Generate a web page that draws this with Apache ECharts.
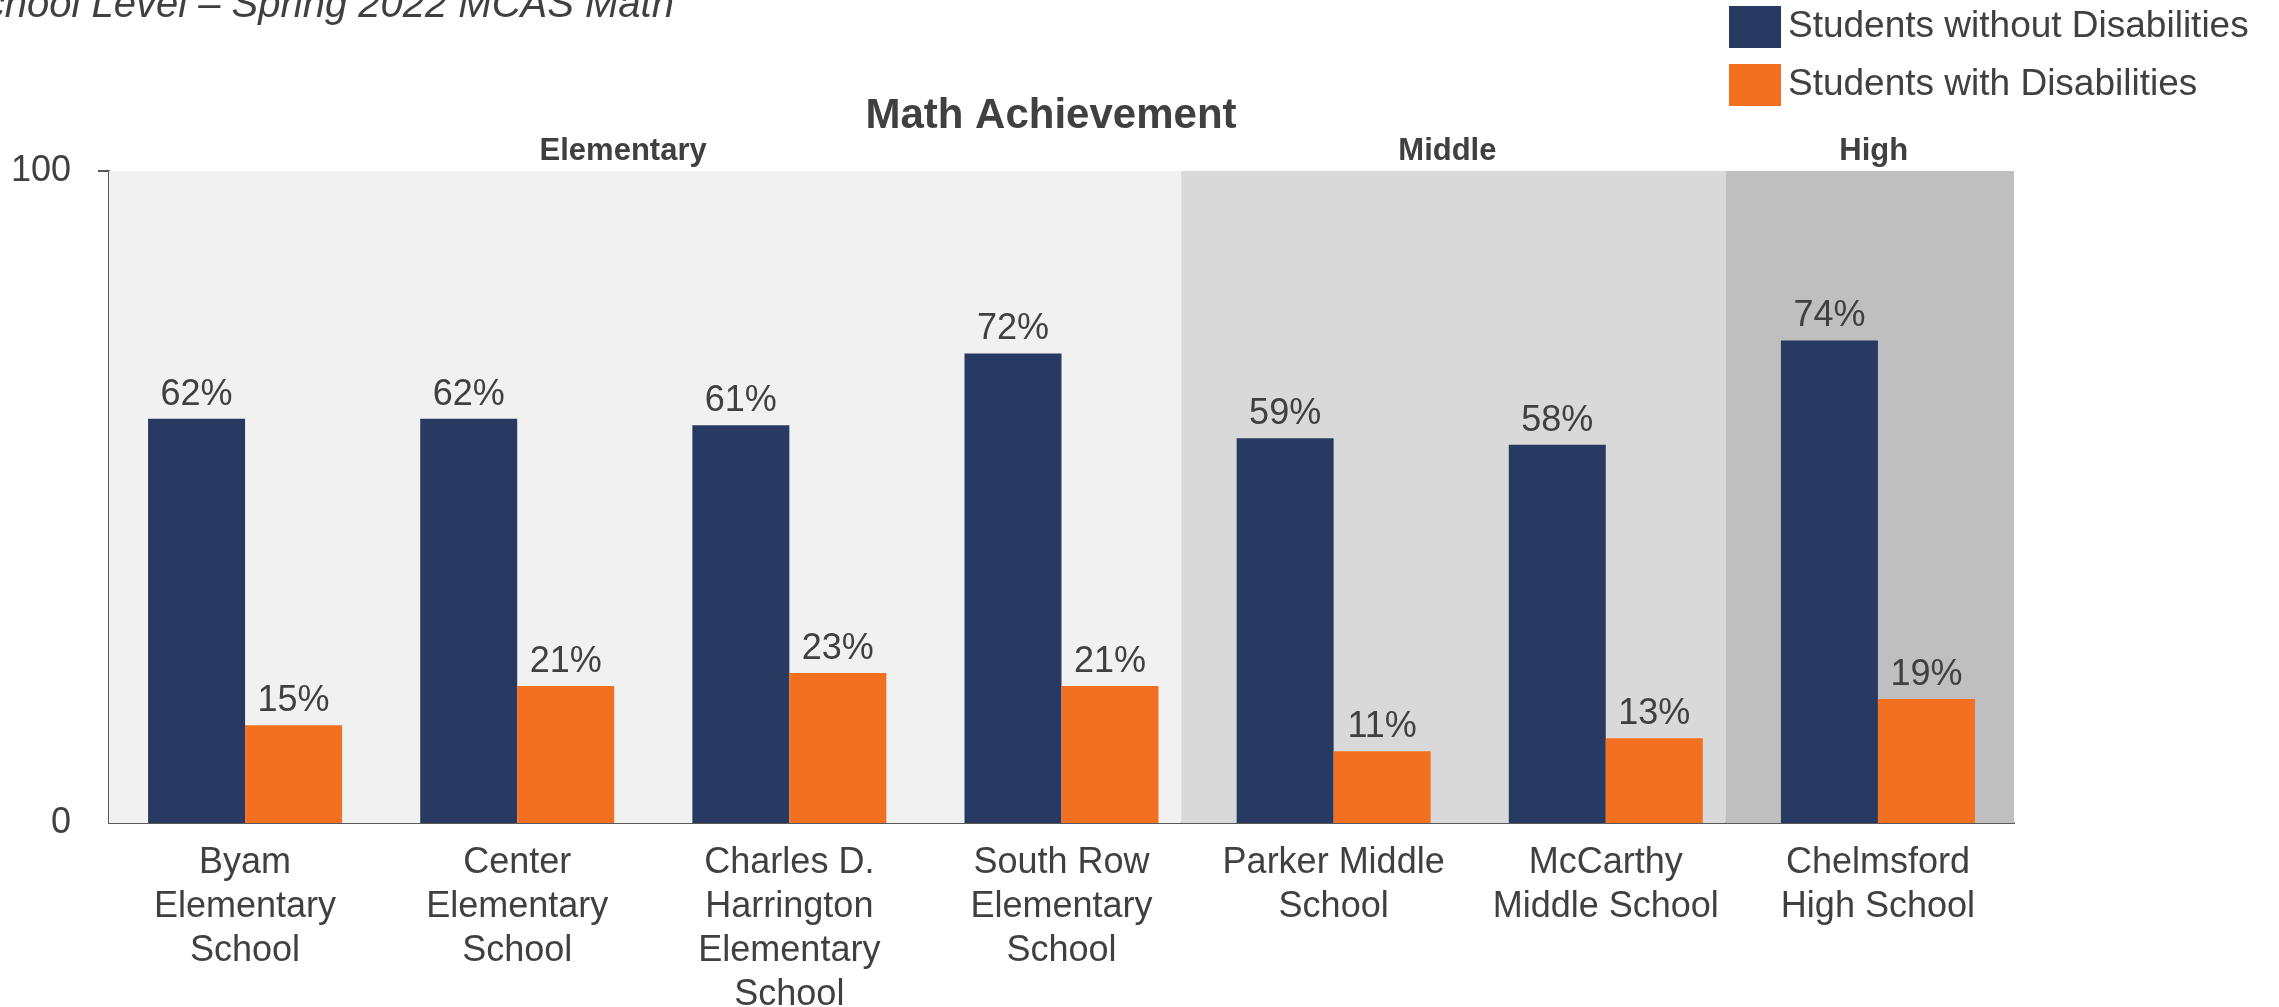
<!DOCTYPE html>
<html>
<head>
    <meta charset="utf-8">
    <title>Math Achievement</title>
    <script src="https://cdn.jsdelivr.net/npm/echarts@6/dist/echarts.min.js"></script>
    <style>
        html, body { margin: 0; padding: 0; background: #fff; }
        #main { width: 2279px; height: 1007px; }
    </style>
</head>
<body>
<div id="main"></div>
<script type="text/javascript">
    // data
    var schools = [
        'Byam\nElementary\nSchool',
        'Center\nElementary\nSchool',
        'Charles D.\nHarrington\nElementary\nSchool',
        'South Row\nElementary\nSchool',
        'Parker Middle\nSchool',
        'McCarthy\nMiddle School',
        'Chelmsford\nHigh School'
    ];
    var withoutDis = [62, 62, 61, 72, 59, 58, 74];
    var withDis = [15, 21, 23, 21, 11, 13, 19];
    var yTicks = [0, 100];

    // school level bands (in category units, 0..7)
    var levelNames = ['Elementary', 'Middle', 'High'];
    var levelFrom = [0, 3.94, 5.94];
    var levelTo = [3.94, 5.94, 7];
    var levelColors = ['#f1f1f1', '#d9d9d9', '#bfbfbf'];
    var levelLabelShift = [-22, -6, 4];

    var textColor = '#404040';
    var font = 'Liberation Sans, Arial, sans-serif';

    var myChart = echarts.init(document.getElementById('main'));

    var bands = [];
    for (var i = 0; i < levelNames.length; i++) {
        bands.push([
            {
                name: levelNames[i],
                xAxis: levelFrom[i],
                itemStyle: { color: levelColors[i] },
                label: { offset: [levelLabelShift[i], 0] }
            },
            { xAxis: levelTo[i] }
        ]);
    }

    var option = {
        animation: false,
        textStyle: { fontFamily: font },
        graphic: [
            {
                type: 'text',
                left: -42,
                top: -14,
                style: {
                    text: 'School Level \u2013 Spring 2022 MCAS Math',
                    font: 'italic 40px ' + font,
                    fill: textColor
                }
            },
            {
                type: 'text',
                x: 1051,
                y: 116,
                style: {
                    text: 'Math Achievement',
                    font: 'bold 42px ' + font,
                    fill: textColor,
                    align: 'center',
                    verticalAlign: 'middle'
                }
            }
        ],
        legend: {
            data: ['Students without Disabilities', 'Students with Disabilities'],
            orient: 'vertical',
            left: 1724,
            top: 1,
            itemWidth: 52,
            itemHeight: 42,
            itemGap: 16,
            icon: 'rect',
            textStyle: { fontSize: 37, color: textColor, padding: [0, 0, 0, 2] }
        },
        grid: {
            left: 109,
            right: 265,
            top: 171,
            bottom: 184,
            outerBoundsMode: 'none'
        },
        xAxis: [
            {
                type: 'category',
                data: schools,
                axisLine: { lineStyle: { color: '#595959', width: 2 } },
                axisTick: { show: false },
                axisLabel: {
                    fontSize: 36,
                    lineHeight: 44,
                    color: textColor,
                    margin: 18,
                    interval: 0
                }
            },
            {
                type: 'value',
                min: 0,
                max: 7,
                show: false
            }
        ],
        yAxis: {
            type: 'value',
            min: yTicks[0],
            max: yTicks[1],
            interval: 100,
            splitLine: { show: false },
            axisLine: { show: true, lineStyle: { color: '#595959', width: 2 } },
            axisTick: { show: true, length: 11, customValues: [100], lineStyle: { color: '#595959', width: 2 } },
            axisLabel: { fontSize: 36, color: textColor, margin: 38 }
        },
        series: [
            {
                name: 'levels',
                type: 'line',
                xAxisIndex: 1,
                data: [[0, 0]],
                showSymbol: false,
                symbolSize: 0,
                lineStyle: { width: 0 },
                z: 0,
                silent: true,
                markArea: {
                    silent: true,
                    label: {
                        show: true,
                        position: 'top',
                        distance: 4,
                        fontSize: 31,
                        fontWeight: 'bold',
                        color: textColor
                    },
                    data: bands
                }
            },
            {
                name: 'Students without Disabilities',
                type: 'bar',
                data: withoutDis,
                barWidth: 97,
                barGap: '0%',
                itemStyle: { color: '#283a61' },
                label: {
                    show: true,
                    position: 'top',
                    distance: 6,
                    formatter: '{c}%',
                    fontSize: 36,
                    color: textColor
                }
            },
            {
                name: 'Students with Disabilities',
                type: 'bar',
                data: withDis,
                barWidth: 97,
                barGap: '0%',
                itemStyle: { color: '#f37021' },
                label: {
                    show: true,
                    position: 'top',
                    distance: 6,
                    formatter: '{c}%',
                    fontSize: 36,
                    color: textColor
                }
            }
        ]
    };

    myChart.setOption(option);
</script>
</body>
</html>
